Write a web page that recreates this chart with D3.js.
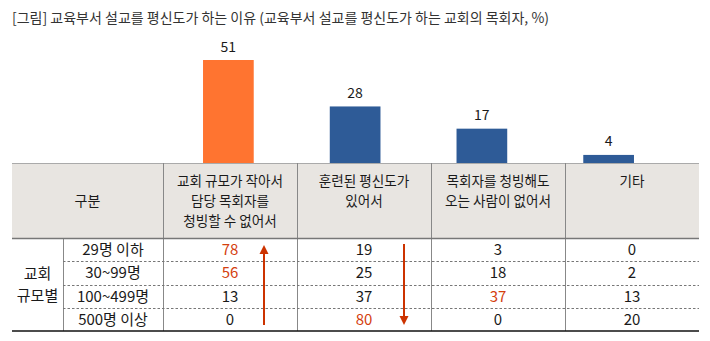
<!DOCTYPE html>
<html><head><meta charset="utf-8">
<script src="https://cdn.jsdelivr.net/npm/d3@7"></script>
<style>
body{margin:0;background:#fff;}
text{font-family:"Noto Sans CJK KR","Noto Sans",sans-serif;}
</style></head>
<body><svg id="c" width="710" height="341"></svg>
<script>
const title = "[그림] 교육부서 설교를 평신도가 하는 이유 (교육부서 설교를 평신도가 하는 교회의 목회자, %)";
const categories = ["교회 규모가 작아서|담당 목회자를|청빙할 수 없어서", "훈련된 평신도가|있어서", "목회자를 청빙해도|오는 사람이 없어서", "기타"];
const totals = [51, 28, 17, 4];
const barColors = ["#FF7430", "#2E5B97", "#2E5B97", "#2E5B97"];
const groupLabel = ["교회", "규모별"];
const headerLabel = "구분";
const rowLabels = ["29명 이하", "30~99명", "100~499명", "500명 이상"];
const rowValues = [
  [78, 19, 3, 0],
  [56, 25, 18, 2],
  [13, 37, 37, 13],
  [0, 80, 0, 20]
];
const highlights = [[0,0],[1,0],[3,1],[2,2]];
const arrows = [{col:0, dir:"up"}, {col:1, dir:"down"}];

const svg = d3.select("#c");
const red = "#D4400E", arrowColor = "#CC3300";

svg.append("text").attr("x", 12).attr("y", 22.5).attr("font-size", 14).attr("fill", "#333").text(title);

// layout
const tableL = 12, tableR = 699, colStart = 163, groupR = 63;
const headTop = 163, headBot = 238, tableBot = 331;
const colX = d3.scaleBand().domain(categories).range([colStart, tableR]);
const rowY = d3.scaleBand().domain(rowLabels).range([headBot, tableBot]);

// bars
const x = d3.scaleBand().domain(categories).range([165, 672]).paddingInner(0.6).paddingOuter(0.3);
const y = d3.scaleLinear().domain([0, 51]).range([headTop, 60]);
svg.selectAll("rect.bar").data(totals).join("rect").attr("class","bar")
  .attr("x", (d,i)=>x(categories[i])).attr("width", x.bandwidth())
  .attr("y", d=>y(d)).attr("height", d=>headTop - y(d))
  .attr("fill", (d,i)=>barColors[i]);
svg.selectAll("text.bl").data(totals).join("text").attr("class","bl")
  .attr("x", (d,i)=>x(categories[i]) + x.bandwidth()/2).attr("y", d=>y(d) - 8.5)
  .attr("text-anchor","middle").attr("font-size", 14).attr("fill","#1a1a1a").text(d=>d);

// header
svg.append("rect").attr("x", tableL).attr("y", headTop).attr("width", tableR - tableL).attr("height", headBot - headTop).attr("fill", "#E8E5E1");
svg.append("line").attr("x1", tableL).attr("x2", tableR).attr("y1", headTop+0.5).attr("y2", headTop+0.5).attr("stroke", "#aaa");
svg.append("text").attr("x", (tableL+colStart)/2).attr("y", 206).attr("text-anchor","middle").attr("font-size",14).attr("fill","#1a1a1a").text(headerLabel);
categories.forEach(c=>{
  const lines = c.split("|");
  const t = svg.append("text").attr("text-anchor","middle").attr("font-size",13.6).attr("fill","#1a1a1a");
  lines.forEach((l,j)=>t.append("tspan").attr("x", colX(c)+colX.bandwidth()/2).attr("y", 186 + j*20).text(l));
});
// vertical lines
categories.forEach(c=>{
  const xx = Math.round(colX(c)) + 0.5;
  svg.append("line").attr("x1", xx).attr("x2", xx).attr("y1", headTop).attr("y2", tableBot).attr("stroke", "#888");
});
svg.append("line").attr("x1", groupR+0.5).attr("x2", groupR+0.5).attr("y1", headBot).attr("y2", tableBot).attr("stroke", "#888");
svg.append("line").attr("x1", tableL).attr("x2", tableR).attr("y1", headBot+0.5).attr("y2", headBot+0.5).attr("stroke", "#777").attr("stroke-width", 1.3);
// dashed separators
rowLabels.slice(1).forEach(r=>{
  const yy = Math.round(rowY(r)) + 0.5;
  svg.append("line").attr("x1", groupR).attr("x2", tableR).attr("y1", yy).attr("y2", yy).attr("stroke", "#777").attr("stroke-dasharray", "2.5,2");
});
svg.append("line").attr("x1", tableL).attr("x2", tableR).attr("y1", tableBot).attr("y2", tableBot).attr("stroke", "#111").attr("stroke-width", 1.5);

// group label
const gl = svg.append("text").attr("text-anchor","middle").attr("font-size",15).attr("fill","#1a1a1a");
groupLabel.forEach((l,j)=>gl.append("tspan").attr("x", (tableL+groupR)/2).attr("y", 279 + j*22).text(l));

// rows
const isHi = (r,c)=>highlights.some(h=>h[0]===r && h[1]===c);
rowLabels.forEach((r,ri)=>{
  const cy = rowY(r) + rowY.bandwidth()/2 + 5.5;
  svg.append("text").attr("x",(groupR+colStart)/2).attr("y",cy).attr("text-anchor","middle").attr("font-size",15).attr("fill","#1a1a1a").text(r);
  rowValues[ri].forEach((v,ci)=>{
    svg.append("text").attr("x", colX(categories[ci]) + colX.bandwidth()/2).attr("y", cy)
      .attr("text-anchor","middle").attr("font-size",15).attr("fill", isHi(ri,ci)? red : "#1a1a1a").text(v);
  });
});

// arrows
arrows.forEach(a=>{
  const ax = colX(categories[a.col]) + colX.bandwidth()/2 + (a.col===0 ? 34 : 40);
  const top = 245, bot = 325;
  if (a.dir === "up") {
    svg.append("line").attr("x1",ax).attr("x2",ax).attr("y1",252).attr("y2",bot).attr("stroke",arrowColor).attr("stroke-width",2);
    svg.append("path").attr("d", `M${ax},${top} L${ax-4.5},${top+9} L${ax+4.5},${top+9} Z`).attr("fill",arrowColor);
  } else {
    svg.append("line").attr("x1",ax).attr("x2",ax).attr("y1",top-1).attr("y2",bot-7).attr("stroke",arrowColor).attr("stroke-width",2);
    svg.append("path").attr("d", `M${ax},${bot} L${ax-4.5},${bot-9} L${ax+4.5},${bot-9} Z`).attr("fill",arrowColor);
  }
});
</script></body></html>
